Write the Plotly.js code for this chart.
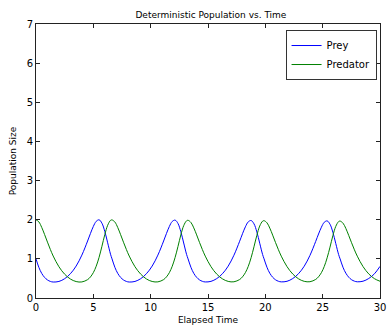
<!DOCTYPE html>
<html>
<head>
<meta charset="utf-8">
<script src="https://cdn.plot.ly/plotly-3.0.1.min.js"></script>
<style>html,body{margin:0;padding:0;background:#fff;}#chart{width:387px;height:328px;}</style>
</head>
<body>
<div id="chart"></div>
<script>
// Elapsed time samples
var time = [
  0,0.25,0.5,0.75,1,1.25,1.5,2,2.5,3,3.5,4,4.5,4.75,5,5.25,5.5,5.75,6,6.25,6.5,
  6.63,6.88,7.13,7.38,7.63,7.88,8.13,8.63,9.13,9.63,10.13,10.63,11.13,11.38,11.63,11.88,12.13,12.38,12.63,12.88,13.13,
  13.26,13.51,13.76,14.01,14.26,14.51,14.76,15.26,15.76,16.26,16.76,17.26,17.76,18.01,18.26,18.51,18.76,19.01,19.26,19.51,19.76,
  19.89,20.14,20.39,20.64,20.89,21.14,21.39,21.89,22.39,22.89,23.39,23.89,24.39,24.64,24.89,25.14,25.39,25.64,25.89,26.14,26.39,
  26.52,26.77,27.02,27.27,27.52,27.77,28.02,28.52,29.02,29.52,30
];
// Prey population
var prey = [
  1.000,0.783,0.628,0.526,0.461,0.424,0.408,0.423,0.493,0.620,0.816,1.096,1.456,1.650,1.828,1.958,1.998,1.911,1.700,1.410,1.118,
  1.000,0.783,0.628,0.526,0.461,0.424,0.408,0.423,0.493,0.620,0.816,1.096,1.456,1.650,1.828,1.955,1.990,1.905,1.695,1.405,1.115,
  1.000,0.785,0.630,0.528,0.463,0.426,0.410,0.425,0.495,0.620,0.814,1.092,1.450,1.642,1.818,1.945,1.980,1.895,1.688,1.400,1.112,
  1.000,0.786,0.632,0.530,0.465,0.428,0.412,0.427,0.497,0.620,0.812,1.088,1.444,1.635,1.808,1.935,1.970,1.885,1.680,1.395,1.110,
  1.000,0.787,0.634,0.532,0.467,0.430,0.414,0.429,0.499,0.620,0.808
];
// Predator population
var predator = [
  2.000,1.944,1.803,1.621,1.427,1.241,1.072,0.799,0.608,0.485,0.420,0.410,0.469,0.539,0.648,0.812,1.038,1.321,1.619,1.858,1.984,
  1.995,1.940,1.800,1.618,1.425,1.240,1.072,0.800,0.610,0.487,0.422,0.412,0.470,0.540,0.648,0.810,1.034,1.315,1.610,1.848,1.972,
  1.985,1.930,1.792,1.612,1.420,1.237,1.070,0.801,0.611,0.489,0.424,0.414,0.472,0.541,0.648,0.808,1.030,1.308,1.600,1.838,1.962,
  1.975,1.922,1.785,1.606,1.416,1.234,1.069,0.802,0.613,0.491,0.426,0.416,0.474,0.542,0.648,0.806,1.026,1.300,1.592,1.828,1.952,
  1.965,1.913,1.778,1.600,1.412,1.231,1.068,0.803,0.615,0.493,0.428
];
var seriesNames = ["Prey", "Predator"];
var xTicks = [0,5,10,15,20,25,30];
var yTicks = [0,1,2,3,4,5,6,7];

var fontFam = "DejaVu Sans, Arial, sans-serif";
var traces = [
  {x: time, y: prey, name: seriesNames[0], type: "scatter", mode: "lines",
   line: {color: "#0000ff", width: 1, shape: "spline", smoothing: 1}},
  {x: time, y: predator, name: seriesNames[1], type: "scatter", mode: "lines",
   line: {color: "#008000", width: 1, shape: "spline", smoothing: 1}}
];
var axisCommon = {
  showgrid: false, zeroline: false, showline: true, linecolor: "#222", linewidth: 1,
  mirror: "ticks", ticks: "inside", ticklen: 4, tickcolor: "#222",
  ticklabeloverflow: "allow",
  tickfont: {family: fontFam, size: 10, color: "#000"}
};
var layout = {
  width: 387, height: 328,
  margin: {l: 36, r: 7, t: 24, b: 30, pad: 0},
  paper_bgcolor: "#fff", plot_bgcolor: "#fff",
  font: {family: fontFam, size: 10, color: "#000"},
  title: {text: "Deterministic Population vs. Time", font: {family: fontFam, size: 9, color: "#000"},
          x: 0.545, xanchor: "center", y: 0.955, yanchor: "middle"},
  xaxis: Object.assign({}, axisCommon, {range: [0, 30], tickvals: xTicks, ticktext: xTicks.map(String),
          title: {text: "Elapsed Time", font: {family: fontFam, size: 9}, standoff: 4}}),
  yaxis: Object.assign({}, axisCommon, {range: [0, 7], tickvals: yTicks, ticktext: yTicks.map(String),
          title: {text: "Population Size", font: {family: fontFam, size: 9}, standoff: 8}}),
  showlegend: true,
  legend: {x: 0.99, y: 0.978, xanchor: "right", yanchor: "top", bgcolor: "#fff",
           bordercolor: "#333", borderwidth: 1, font: {family: fontFam, size: 10},
           tracegroupgap: 0, itemwidth: 30}
};
Plotly.newPlot("chart", traces, layout, {displayModeBar: false, staticPlot: true});
</script>
</body>
</html>
